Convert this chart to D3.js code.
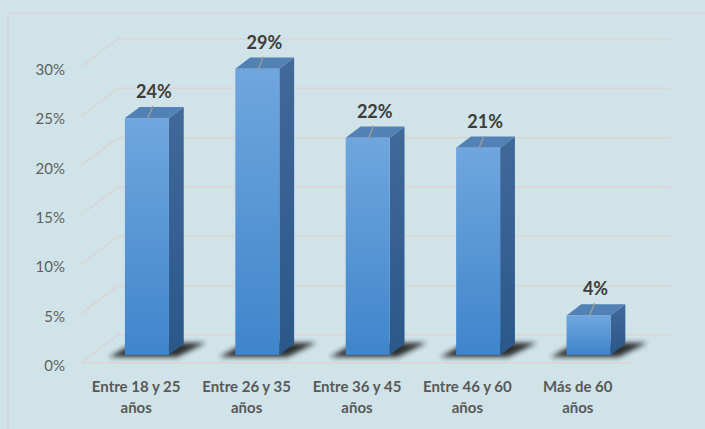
<!DOCTYPE html>
<html><head><meta charset="utf-8">
<script src="https://cdn.jsdelivr.net/npm/d3@7"></script>
<style>html,body{margin:0;padding:0;background:#cfe3e8;}svg{display:block;}</style>
</head><body>
<script>
const categories = [["Entre 18 y 25","años"],["Entre 26 y 35","años"],["Entre 36 y 45","años"],["Entre 46 y 60","años"],["Más de 60","años"]];
const values = [24, 29, 22, 21, 4];
const ticks = [0, 5, 10, 15, 20, 25, 30];

const W = 705, H = 429;
const svg = d3.select("body").append("svg").attr("width", W).attr("height", H);
svg.append("rect").attr("width", W).attr("height", H).attr("fill", "#cfe3e8");

// outer plot-area border
svg.append("rect").attr("x", 8).attr("y", 13).attr("width", 800).attr("height", 600)
  .attr("fill", "none").attr("stroke", "#d6d8d8").attr("stroke-width", 1.5);

const DX = 37, DY = -28; // depth projection
const y = d3.scaleLinear().domain([0, 30]).range([363, 67]);
const x = d3.scaleBand().domain(d3.range(categories.length)).range([81, 633]).padding(0);
const P = (px, v, z) => [px + z * DX, y(v) + z * DY];

const defs = svg.append("defs");
const gf = defs.append("linearGradient").attr("id", "gfront").attr("x1", 0).attr("y1", 0).attr("x2", 0).attr("y2", 1);
gf.append("stop").attr("offset", "0%").attr("stop-color", "#70a6de");
gf.append("stop").attr("offset", "100%").attr("stop-color", "#3f85cc");
const gs = defs.append("linearGradient").attr("id", "gside").attr("x1", 0).attr("y1", 0).attr("x2", 0).attr("y2", 1);
gs.append("stop").attr("offset", "0%").attr("stop-color", "#41699a");
gs.append("stop").attr("offset", "100%").attr("stop-color", "#2a5889");
defs.append("filter").attr("id", "blur").attr("x", "-50%").attr("y", "-100%").attr("width", "200%").attr("height", "300%")
  .append("feGaussianBlur").attr("stdDeviation", 2.5);

const grid = "#dbd5d3";
const g = svg.append("g");
// back wall & side wall gridlines
ticks.forEach(t => {
  const a = P(81, t, 0), b = P(81, t, 1), c = P(633, t, 1);
  g.append("line").attr("x1", a[0]).attr("y1", a[1]).attr("x2", b[0]).attr("y2", b[1]).attr("stroke", grid).attr("stroke-width", 1.5);
  g.append("line").attr("x1", b[0]).attr("y1", b[1]).attr("x2", c[0]).attr("y2", c[1]).attr("stroke", grid).attr("stroke-width", 1.5);
});
// floor front edge
g.append("line").attr("x1", 81).attr("y1", y(0)).attr("x2", 633).attr("y2", y(0)).attr("stroke", grid).attr("stroke-width", 1.5);

// tick labels
svg.append("g").selectAll("text").data(ticks).join("text")
  .attr("x", 65).attr("y", d => y(d) + 8).attr("text-anchor", "end")
  .attr("font-family", "Lato, 'Open Sans', sans-serif").attr("font-size", 15).attr("fill", "#5f5f5f")
  .text(d => d + "%");

const Z0 = 0.29, Z1 = 0.69, BW = 44;
const bars = svg.append("g");
values.forEach((v, i) => {
  const cx = x(i) + x.bandwidth() / 2;
  const xl = cx - BW / 2, xr = cx + BW / 2;
  const fbl = P(xl, 0, Z0), fbr = P(xr, 0, Z0), ftl = P(xl, v, Z0), ftr = P(xr, v, Z0);
  const bbr = P(xr, 0, Z1), btr = P(xr, v, Z1), btl = P(xl, v, Z1);
  // shadow
  bars.append("polygon")
    .attr("points", [[fbl[0] - 16, fbl[1] + 2], [fbr[0] + 8, fbr[1] + 2], [bbr[0] + 22, bbr[1] - 1], [fbl[0] + 10, bbr[1] - 1]].map(p => p.join(",")).join(" "))
    .attr("fill", "#1e1e1e").attr("opacity", 0.9).attr("filter", "url(#blur)");
  // side
  bars.append("polygon").attr("points", [fbr, bbr, btr, ftr].map(p => p.join(",")).join(" ")).attr("fill", "url(#gside)");
  // top
  bars.append("polygon").attr("points", [ftl, ftr, btr, btl].map(p => p.join(",")).join(" ")).attr("fill", "#5281b6");
  // front
  bars.append("rect").attr("x", ftl[0]).attr("y", ftl[1]).attr("width", BW).attr("height", fbl[1] - ftl[1]).attr("fill", "url(#gfront)");
  // leader line
  const lx = ftl[0] + BW / 2 + 1, ly = ftl[1];
  bars.append("line").attr("x1", lx).attr("y1", ly).attr("x2", lx + 5).attr("y2", ly - 12).attr("stroke", "#9a9a9a").attr("stroke-width", 1.5);
  bars.append("text").attr("x", lx + 6).attr("y", ly - 20).attr("text-anchor", "middle")
    .attr("font-family", "Lato, 'Open Sans', sans-serif").attr("font-weight", "bold").attr("font-size", 18).attr("fill", "#3d3d3d")
    .text(v + "%");
});

// category labels
const cl = svg.append("g").attr("font-family", "Lato, 'Open Sans', sans-serif").attr("font-weight", "bold").attr("font-size", 15).attr("fill", "#595959").attr("text-anchor", "middle");
categories.forEach((c, i) => {
  const cx = x(i) + x.bandwidth() / 2;
  const t = cl.append("text").attr("x", cx).attr("y", 392);
  t.append("tspan").attr("x", cx).attr("dy", 0).text(c[0]);
  t.append("tspan").attr("x", cx).attr("dy", 21).text(c[1]);
});
</script>
</body></html>
